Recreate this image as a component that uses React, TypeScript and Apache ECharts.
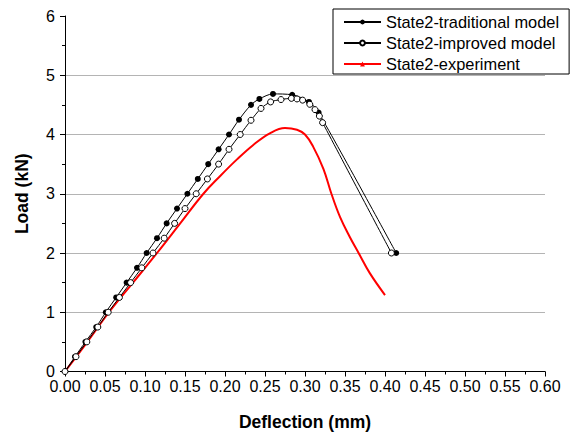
import React, { useEffect, useRef } from "react";
import * as echarts from "echarts";

// Load (kN) vs deflection (mm)
const traditionalModel: [number, number][] = [
  [0, 0], [0.0125, 0.25], [0.0255, 0.5], [0.039, 0.75], [0.051, 1.0], [0.064, 1.25],
  [0.077, 1.5], [0.09, 1.75], [0.102, 2.0], [0.115, 2.25], [0.127, 2.5], [0.14, 2.75],
  [0.153, 3.0], [0.166, 3.25], [0.179, 3.5], [0.192, 3.75], [0.205, 4.0], [0.2175, 4.25],
  [0.2325, 4.5], [0.243, 4.6], [0.26, 4.685], [0.284, 4.67], [0.305, 4.55], [0.317, 4.37],
  [0.414, 2.0],
];

const improvedModel: [number, number][] = [
  [0, 0], [0.0137, 0.25], [0.0273, 0.5], [0.041, 0.75], [0.054, 1.0], [0.068, 1.25],
  [0.082, 1.5], [0.096, 1.75], [0.11, 2.0], [0.124, 2.25], [0.137, 2.5], [0.15, 2.75],
  [0.164, 3.0], [0.178, 3.25], [0.192, 3.5], [0.205, 3.75], [0.219, 4.0], [0.2325, 4.24],
  [0.245, 4.44], [0.257, 4.55], [0.27, 4.59], [0.283, 4.61], [0.29, 4.6], [0.297, 4.58],
  [0.306, 4.51], [0.3125, 4.42], [0.318, 4.31], [0.322, 4.2], [0.408, 2.0],
];

const experiment: [number, number][] = [
  [0, 0], [0.028, 0.5], [0.055, 1.0], [0.085, 1.5], [0.115, 2.0], [0.144, 2.5],
  [0.173, 3.0], [0.194, 3.3], [0.215, 3.58], [0.235, 3.82], [0.256, 4.02], [0.275, 4.11],
  [0.29, 4.08], [0.3, 4.0], [0.31, 3.8], [0.323, 3.42], [0.333, 3.0], [0.344, 2.6],
  [0.356, 2.27], [0.367, 2.0], [0.381, 1.66], [0.4, 1.29],
];

const seriesNames = ["State2-traditional model", "State2-improved model", "State2-experiment"];
const xAxisName = "Deflection (mm)";
const yAxisName = "Load (kN)";

const FONT = "Liberation Sans, Arial, sans-serif";

export default function App() {
  const ref = useRef<HTMLDivElement>(null);

  useEffect(() => {
    if (!ref.current) return;
    const chart = echarts.init(ref.current, undefined, { renderer: "svg" });
    chart.setOption({
      animation: false,
      backgroundColor: "#ffffff",
      grid: {
        left: 65,
        right: 27,
        top: 16,
        bottom: 61.5,
        containLabel: false,
        outerBoundsMode: "none",
      },
      legend: {
        orient: "vertical",
        left: 333,
        top: 9,
        padding: [5, 10, 2, 10],
        itemGap: 5,
        itemWidth: 37,
        itemHeight: 6,
        borderColor: "#000",
        borderWidth: 1,
        borderRadius: 0,
        backgroundColor: "#fff",
        textStyle: { fontFamily: FONT, fontSize: 16.4, color: "#000" },
        data: seriesNames,
      },
      xAxis: {
        type: "value",
        min: 0,
        max: 0.6,
        interval: 0.05,
        name: xAxisName,
        nameLocation: "middle",
        nameGap: 41,
        nameTextStyle: { fontFamily: FONT, fontSize: 17.5, fontWeight: "bold", color: "#000" },
        axisLine: { show: true, onZero: false, lineStyle: { color: "#000", width: 1 } },
        axisTick: { show: true, inside: false, length: 5, lineStyle: { color: "#000" } },
        minorTick: { show: true, splitNumber: 2, length: 3, lineStyle: { color: "#000" } },
        axisLabel: {
          fontFamily: FONT,
          fontSize: 16,
          color: "#000",
          margin: 7,
          formatter: (v: number) => v.toFixed(2),
        },
        splitLine: { show: false },
      },
      yAxis: {
        type: "value",
        min: 0,
        max: 6,
        interval: 1,
        name: yAxisName,
        nameLocation: "middle",
        nameGap: 34,
        nameTextStyle: { fontFamily: FONT, fontSize: 17.5, fontWeight: "bold", color: "#000" },
        axisLine: { show: true, lineStyle: { color: "#000", width: 1 } },
        axisTick: { show: true, inside: false, length: 5, lineStyle: { color: "#000" } },
        minorTick: { show: true, splitNumber: 2, length: 3, lineStyle: { color: "#000" } },
        axisLabel: { fontFamily: FONT, fontSize: 16, color: "#000", margin: 10 },
        splitLine: {
          show: true,
          showMinLine: false,
          showMaxLine: false,
          lineStyle: { color: "#b4b4b4", width: 1 },
        },
      },
      series: [
        {
          name: seriesNames[0],
          type: "line",
          data: traditionalModel,
          smooth: 0.3,
          symbol: "circle",
          symbolSize: 6,
          lineStyle: { color: "#000", width: 1 },
          itemStyle: { color: "#000", borderColor: "#000", borderWidth: 0 },
          z: 3,
        },
        {
          name: seriesNames[1],
          type: "line",
          data: improvedModel,
          smooth: 0.3,
          symbol: "circle",
          symbolSize: 6,
          lineStyle: { color: "#000", width: 1 },
          itemStyle: { color: "#fff", borderColor: "#000", borderWidth: 1 },
          z: 4,
        },
        {
          name: seriesNames[2],
          type: "line",
          data: experiment,
          smooth: 0.4,
          symbol: "triangle",
          symbolSize: 3,
          showSymbol: false,
          lineStyle: { color: "#ff0000", width: 2 },
          itemStyle: { color: "#ff0000" },
          z: 2,
        },
      ],
    });
    return () => chart.dispose();
  }, []);

  return (
    <div
      ref={ref}
      style={{ position: "fixed", left: 0, top: 0, width: 572, height: 433, background: "#fff" }}
    />
  );
}
